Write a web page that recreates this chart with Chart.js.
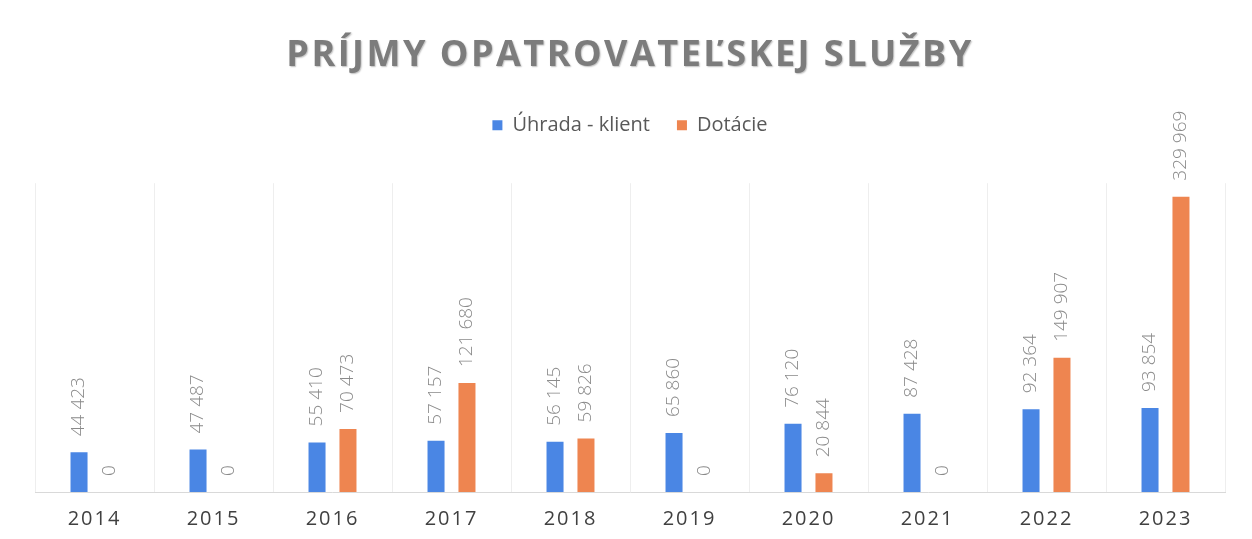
<!DOCTYPE html>
<html><head><meta charset="utf-8">
<script src="https://cdn.jsdelivr.net/npm/chart.js@4"></script>
<style>html,body{margin:0;padding:0;background:#fff}#wrap{width:1252px;height:539px}</style>
</head><body><div id="wrap"><canvas id="c" width="1252" height="539"></canvas></div>
<script>
const chartTitle = 'PRÍJMY OPATROVATEĽSKEJ SLUŽBY';
const categories = ['2014','2015','2016','2017','2018','2019','2020','2021','2022','2023'];
const seriesNames = ['Úhrada - klient','Dotácie'];
const uhradaKlient = [44423,47487,55410,57157,56145,65860,76120,87428,92364,93854];
const dotacie = [0,0,70473,121680,59826,0,20844,0,149907,329969];

function fmt(v){ return String(v).replace(/\B(?=(\d{3})+(?!\d))/g,' '); }

const layoutPlugin = {
  id:'layoutfix',
  beforeLayout(chart){
    if (chart._fitWrapped) return;
    chart._fitWrapped = true;
    const lg = chart.legend;
    if (lg){ const of = lg.fit.bind(lg); lg.fit = function(){ of(); this.height = 95; }; }
  },
  beforeDraw(chart){
    if (chart._wrapped) return;
    chart._wrapped = true;
    const tb = chart.titleBlock;
    if (tb){ const o = tb.draw.bind(tb); tb.draw = function(){ const c=chart.ctx; c.save(); c.letterSpacing='2.5px'; c.shadowColor='rgba(0,0,0,0.25)'; c.shadowOffsetX=1; c.shadowOffsetY=1; c.shadowBlur=1.5; o(); c.restore(); }; }
    const xs = chart.scales.x;
    const od = xs.drawLabels.bind(xs);
    xs.drawLabels = function(a){ const c=chart.ctx; c.save(); c.letterSpacing='2px'; od(a); c.restore(); };
  }
};

const labelPlugin = {
  id:'vlabels',
  afterDatasetsDraw(chart){
    const ctx = chart.ctx;
    ctx.save();
    ctx.font = '300 19px "Open Sans", sans-serif';
    ctx.fillStyle = '#8a8a8a';
    ctx.textAlign = 'left';
    ctx.textBaseline = 'middle';
    chart.data.datasets.forEach((ds,i)=>{
      chart.getDatasetMeta(i).data.forEach((bar,j)=>{
        ctx.save();
        ctx.translate(bar.x, bar.y - 16);
        ctx.rotate(-Math.PI/2);
        ctx.fillText(fmt(ds.data[j]), 0, 0);
        ctx.restore();
      });
    });
    ctx.restore();
  }
};

new Chart(document.getElementById('c'), {
  type:'bar',
  data:{
    labels: categories,
    datasets:[
      {label: seriesNames[0], data: uhradaKlient, backgroundColor:'#4a86e4', categoryPercentage:0.52, barPercentage:0.55},
      {label: seriesNames[1], data: dotacie, backgroundColor:'#ee8550', categoryPercentage:0.52, barPercentage:0.55}
    ]
  },
  options:{
    responsive:false, animation:false,
    layout:{padding:{left:35,right:27,top:0,bottom:0}},
    plugins:{
      title:{display:true, text: chartTitle, color:'#7c7c7c', font:{family:'"Open Sans", sans-serif', size:36, weight:'bold'}, padding:{top:34,bottom:11}},
      legend:{display:true, position:'top', labels:{boxWidth:10, boxHeight:10, color:'#595959', font:{family:'"Open Sans", sans-serif', size:20}, padding:27}},
      tooltip:{enabled:false}
    },
    scales:{
      x:{grid:{color:'#eeeeee', drawTicks:false}, border:{color:'#d9d9d9'}, ticks:{color:'#404040', padding:15, font:{family:'"Open Sans", sans-serif', size:20}},
         afterFit(s){ s.height = 47; }},
      y:{display:false, min:0, max:345000}
    }
  },
  plugins:[layoutPlugin, labelPlugin]
});
</script></body></html>
